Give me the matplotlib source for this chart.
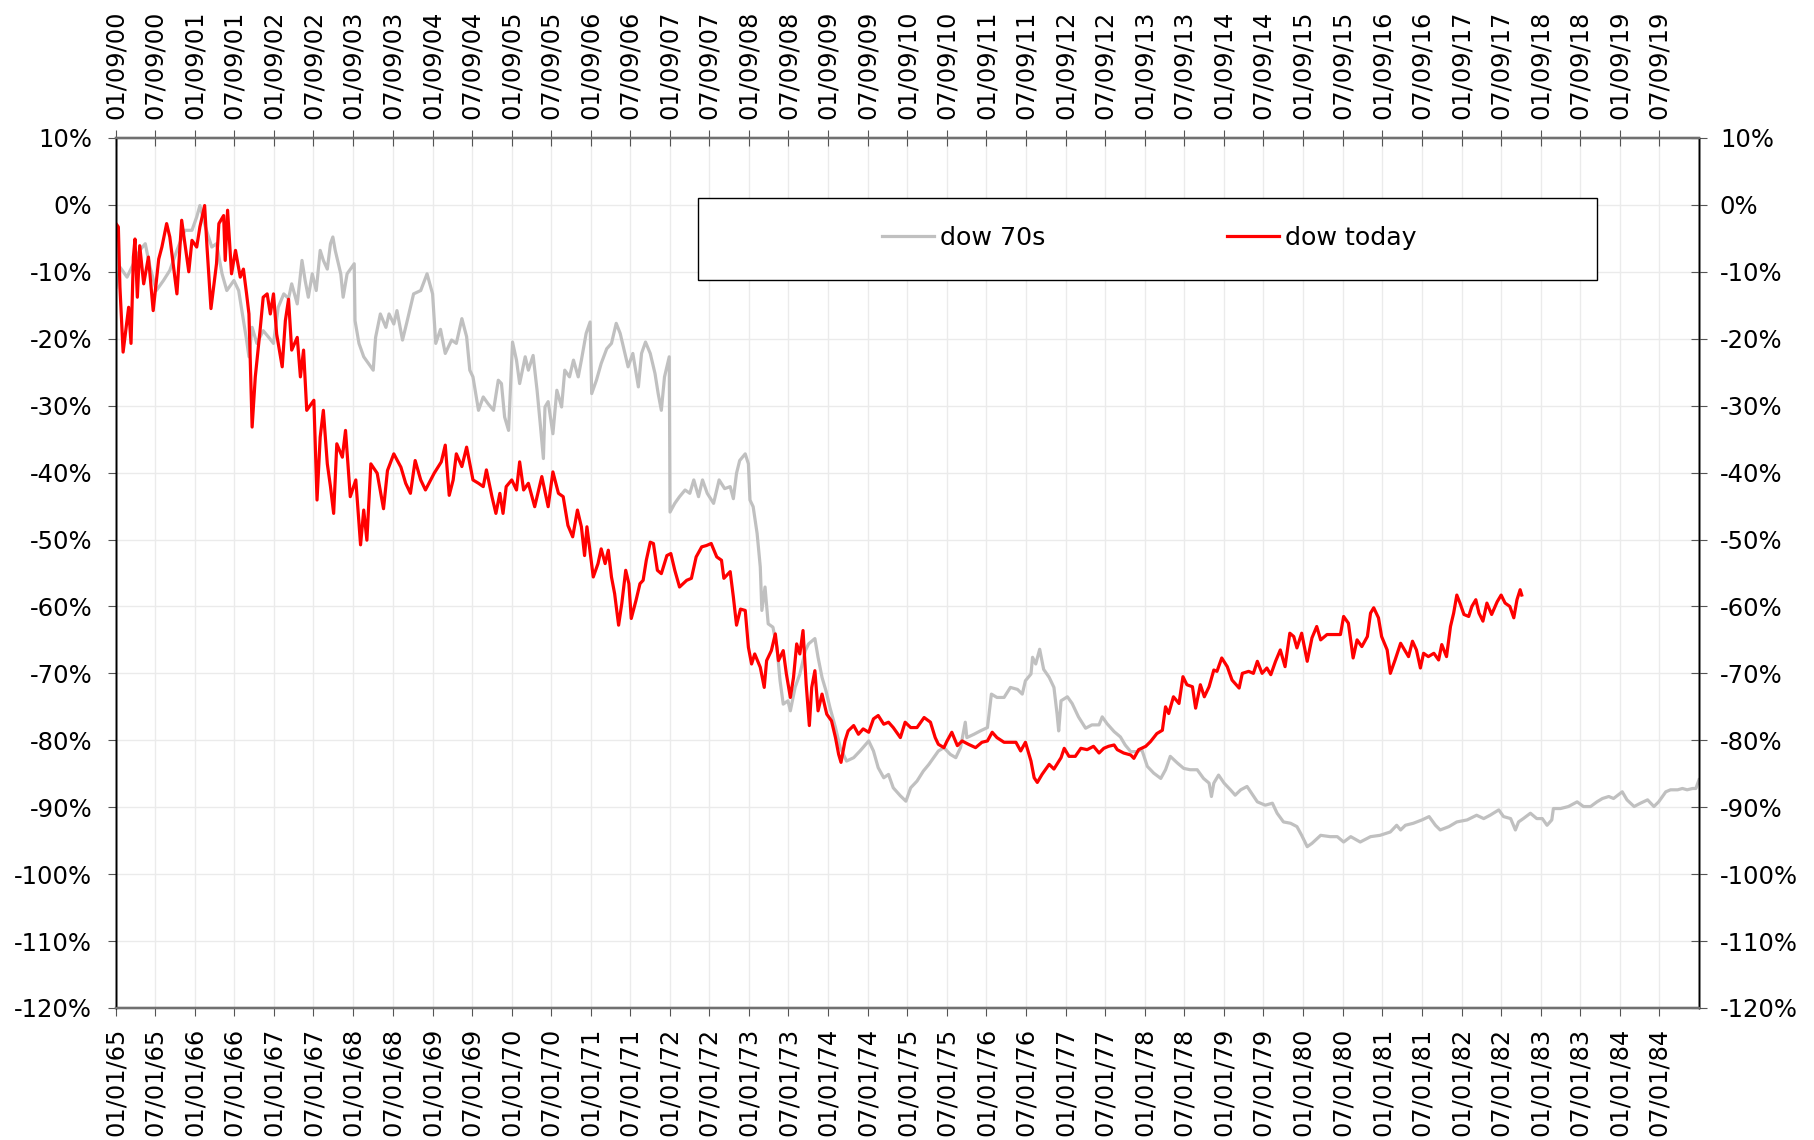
import numpy as np
import pandas as pd
import matplotlib
matplotlib.use("Agg")
import matplotlib.pyplot as plt
import matplotlib.dates as mdates
from matplotlib.patches import Rectangle
from matplotlib.ticker import FuncFormatter, MultipleLocator

# drawdown from the peak, % ; x in decimal years (1965 axis)
dow70_year = [
    1965.00, 1965.05, 1965.14, 1965.22, 1965.30, 1965.37, 1965.43, 1965.51, 1965.60, 1965.68,
    1965.77, 1965.87, 1965.96, 1966.02, 1966.06, 1966.13, 1966.21, 1966.27, 1966.34, 1966.40,
    1966.49, 1966.55, 1966.59, 1966.65, 1966.68, 1966.72, 1966.78, 1966.86, 1966.93, 1966.99,
    1967.05, 1967.12, 1967.18, 1967.22, 1967.29, 1967.35, 1967.39, 1967.43, 1967.48, 1967.53,
    1967.58, 1967.62, 1967.67, 1967.71, 1967.74, 1967.77, 1967.84, 1967.87, 1967.92, 1967.98,
    1968.01, 1968.02, 1968.07, 1968.13, 1968.22, 1968.25, 1968.28, 1968.34, 1968.41, 1968.45,
    1968.51, 1968.55, 1968.62, 1968.68, 1968.76, 1968.85, 1968.93, 1969.00, 1969.04, 1969.10,
    1969.16, 1969.24, 1969.30, 1969.37, 1969.43, 1969.47, 1969.51, 1969.58, 1969.64, 1969.70,
    1969.77, 1969.83, 1969.87, 1969.91, 1969.96, 1970.01, 1970.06, 1970.10, 1970.17, 1970.21,
    1970.27, 1970.32, 1970.36, 1970.40, 1970.42, 1970.46, 1970.52, 1970.57, 1970.63, 1970.67,
    1970.73, 1970.78, 1970.84, 1970.88, 1970.94, 1970.99, 1971.01, 1971.07, 1971.13, 1971.20,
    1971.26, 1971.32, 1971.37, 1971.41, 1971.47, 1971.53, 1971.60, 1971.64, 1971.69, 1971.75,
    1971.81, 1971.85, 1971.89, 1971.93, 1971.99, 1972.00, 1972.06, 1972.12, 1972.19, 1972.25,
    1972.30, 1972.36, 1972.41, 1972.47, 1972.55, 1972.62, 1972.69, 1972.76, 1972.80, 1972.84,
    1972.88, 1972.95, 1972.99, 1973.01, 1973.05, 1973.10, 1973.14, 1973.16, 1973.20, 1973.24,
    1973.30, 1973.35, 1973.39, 1973.43, 1973.49, 1973.52, 1973.58, 1973.64, 1973.71, 1973.75,
    1973.83, 1973.87, 1973.92, 1973.97, 1974.02, 1974.09, 1974.15, 1974.23, 1974.32, 1974.40,
    1974.51, 1974.57, 1974.63, 1974.70, 1974.76, 1974.82, 1974.91, 1974.98, 1975.04, 1975.12,
    1975.20, 1975.27, 1975.33, 1975.39, 1975.46, 1975.54, 1975.61, 1975.67, 1975.73, 1975.75,
    1975.84, 1975.92, 1976.01, 1976.06, 1976.13, 1976.22, 1976.30, 1976.39, 1976.45, 1976.49,
    1976.56, 1976.58, 1976.62, 1976.67, 1976.72, 1976.79, 1976.85, 1976.89, 1976.91, 1976.94,
    1977.02, 1977.08, 1977.16, 1977.25, 1977.33, 1977.42, 1977.46, 1977.52, 1977.61, 1977.69,
    1977.75, 1977.82, 1977.90, 1977.96, 1978.03, 1978.11, 1978.20, 1978.26, 1978.32, 1978.41,
    1978.49, 1978.57, 1978.66, 1978.74, 1978.81, 1978.84, 1978.87, 1978.93, 1979.00, 1979.08,
    1979.14, 1979.21, 1979.29, 1979.42, 1979.52, 1979.61, 1979.67, 1979.75, 1979.84, 1979.92,
    1979.98, 1980.05, 1980.11, 1980.22, 1980.34, 1980.43, 1980.51, 1980.60, 1980.72, 1980.85,
    1980.97, 1981.10, 1981.18, 1981.23, 1981.29, 1981.39, 1981.50, 1981.59, 1981.67, 1981.73,
    1981.84, 1981.94, 1982.07, 1982.19, 1982.28, 1982.36, 1982.47, 1982.53, 1982.62, 1982.68,
    1982.72, 1982.78, 1982.87, 1982.95, 1983.02, 1983.08, 1983.14, 1983.16, 1983.25, 1983.35,
    1983.46, 1983.54, 1983.63, 1983.71, 1983.78, 1983.86, 1983.92, 1984.03, 1984.09, 1984.18,
    1984.26, 1984.35, 1984.43, 1984.49, 1984.58, 1984.64, 1984.73, 1984.79, 1984.85, 1984.92,
    1984.96, 1985.00,
]
dow70_pct = [
    -12.3, -9.3, -10.8, -8.8, -6.8, -5.8, -9.3, -12.8, -11.3, -9.8,
    -6.8, -3.8, -3.8, -1.8, -0.1, -3.3, -6.3, -5.8, -10.3, -12.8,
    -11.3, -12.8, -15.8, -20.2, -22.7, -18.3, -20.7, -18.8, -19.8, -20.7,
    -15.3, -13.3, -14.0, -11.8, -14.8, -8.3, -11.3, -13.8, -10.3, -12.8,
    -6.8, -8.3, -9.6, -5.8, -4.8, -6.8, -10.3, -13.8, -10.3, -9.3,
    -8.8, -17.3, -20.7, -22.7, -24.2, -24.7, -19.8, -16.3, -18.3, -16.3,
    -17.8, -15.8, -20.2, -17.3, -13.3, -12.8, -10.3, -13.3, -20.7, -18.6,
    -22.2, -20.2, -20.7, -17.0, -19.7, -24.7, -25.7, -30.7, -28.7, -29.7,
    -30.7, -26.2, -26.7, -31.7, -33.7, -20.5, -23.2, -26.7, -22.7, -24.7,
    -22.5, -27.7, -32.7, -37.9, -30.2, -29.4, -34.2, -27.7, -30.2, -24.7,
    -25.7, -23.2, -25.7, -23.2, -19.2, -17.5, -28.2, -26.2, -23.7, -21.5,
    -20.7, -17.7, -19.2, -21.2, -24.2, -22.2, -27.2, -22.2, -20.5, -22.2,
    -25.2, -28.2, -30.7, -25.7, -22.7, -45.9, -44.6, -43.6, -42.6, -43.1,
    -41.1, -43.6, -41.1, -43.1, -44.6, -41.1, -42.4, -42.1, -43.9, -40.1,
    -38.2, -37.2, -38.7, -44.1, -45.1, -49.1, -54.1, -60.6, -57.1, -62.6,
    -63.1, -66.1, -71.1, -74.6, -74.1, -75.6, -72.1, -70.1, -66.6, -65.6,
    -64.8, -67.6, -70.6, -72.6, -75.1, -78.1, -81.1, -83.1, -82.6, -81.6,
    -80.1, -81.6, -84.1, -85.6, -85.1, -87.1, -88.3, -89.1, -87.1, -86.1,
    -84.6, -83.6, -82.6, -81.6, -81.1, -82.1, -82.6, -81.1, -77.3, -79.6,
    -79.1, -78.6, -78.1, -73.1, -73.6, -73.6, -72.1, -72.4, -73.1, -71.1,
    -70.1, -67.6, -68.6, -66.4, -69.4, -70.6, -72.1, -76.1, -78.6, -74.1,
    -73.5, -74.5, -76.5, -78.2, -77.7, -77.7, -76.5, -77.5, -78.7, -79.5,
    -80.7, -81.7, -81.7, -81.4, -83.9, -84.9, -85.7, -84.4, -82.4, -83.4,
    -84.2, -84.4, -84.4, -85.7, -86.4, -88.4, -86.4, -85.2, -86.4, -87.4,
    -88.2, -87.4, -86.9, -89.2, -89.7, -89.4, -90.9, -92.2, -92.4, -92.9,
    -94.2, -95.9, -95.4, -94.2, -94.4, -94.4, -95.2, -94.4, -95.2, -94.4,
    -94.2, -93.7, -92.7, -93.4, -92.7, -92.4, -91.9, -91.4, -92.7, -93.4,
    -92.9, -92.2, -91.9, -91.2, -91.7, -91.2, -90.4, -91.4, -91.7, -93.4,
    -92.2, -91.7, -90.9, -91.7, -91.7, -92.7, -91.9, -90.2, -90.2, -89.9,
    -89.2, -89.9, -89.9, -89.2, -88.7, -88.4, -88.7, -87.7, -88.9, -89.9,
    -89.4, -88.9, -89.9, -89.2, -87.7, -87.4, -87.4, -87.2, -87.4, -87.2,
    -87.2, -85.9,
]

today_year = [
    1965.00, 1965.03, 1965.05, 1965.09, 1965.16, 1965.19, 1965.22, 1965.24, 1965.27, 1965.30,
    1965.35, 1965.41, 1965.47, 1965.54, 1965.58, 1965.64, 1965.68, 1965.77, 1965.83, 1965.92,
    1965.96, 1966.02, 1966.06, 1966.12, 1966.15, 1966.20, 1966.27, 1966.30, 1966.36, 1966.38,
    1966.41, 1966.46, 1966.51, 1966.57, 1966.61, 1966.65, 1966.68, 1966.72, 1966.76, 1966.82,
    1966.86, 1966.91, 1966.95, 1966.99, 1967.03, 1967.10, 1967.14, 1967.18, 1967.22, 1967.29,
    1967.33, 1967.37, 1967.41, 1967.50, 1967.54, 1967.58, 1967.62, 1967.67, 1967.71, 1967.75,
    1967.79, 1967.86, 1967.90, 1967.96, 1968.03, 1968.09, 1968.13, 1968.17, 1968.22, 1968.30,
    1968.38, 1968.43, 1968.51, 1968.60, 1968.66, 1968.72, 1968.78, 1968.85, 1968.91, 1969.02,
    1969.11, 1969.16, 1969.21, 1969.26, 1969.30, 1969.37, 1969.43, 1969.51, 1969.58, 1969.64,
    1969.68, 1969.75, 1969.80, 1969.85, 1969.89, 1969.93, 1970.00, 1970.06, 1970.10, 1970.15,
    1970.21, 1970.29, 1970.38, 1970.46, 1970.52, 1970.59, 1970.65, 1970.71, 1970.77, 1970.83,
    1970.88, 1970.92, 1970.95, 1971.03, 1971.09, 1971.13, 1971.18, 1971.22, 1971.26, 1971.30,
    1971.35, 1971.39, 1971.44, 1971.48, 1971.51, 1971.57, 1971.62, 1971.66, 1971.70, 1971.75,
    1971.79, 1971.84, 1971.89, 1971.96, 1972.01, 1972.06, 1972.12, 1972.21, 1972.27, 1972.33,
    1972.40, 1972.46, 1972.52, 1972.59, 1972.65, 1972.68, 1972.76, 1972.80, 1972.84, 1972.89,
    1972.95, 1972.99, 1973.03, 1973.07, 1973.14, 1973.19, 1973.22, 1973.28, 1973.33, 1973.37,
    1973.43, 1973.47, 1973.52, 1973.56, 1973.60, 1973.64, 1973.68, 1973.72, 1973.76, 1973.79,
    1973.83, 1973.87, 1973.92, 1973.98, 1974.04, 1974.09, 1974.13, 1974.16, 1974.21, 1974.25,
    1974.32, 1974.38, 1974.44, 1974.51, 1974.57, 1974.63, 1974.70, 1974.76, 1974.82, 1974.91,
    1974.97, 1975.04, 1975.12, 1975.21, 1975.29, 1975.35, 1975.39, 1975.46, 1975.50, 1975.56,
    1975.63, 1975.69, 1975.77, 1975.86, 1975.94, 1976.01, 1976.07, 1976.13, 1976.22, 1976.30,
    1976.37, 1976.43, 1976.49, 1976.56, 1976.60, 1976.64, 1976.70, 1976.79, 1976.85, 1976.94,
    1976.98, 1977.04, 1977.12, 1977.19, 1977.27, 1977.35, 1977.42, 1977.48, 1977.54, 1977.61,
    1977.65, 1977.73, 1977.82, 1977.86, 1977.92, 1978.01, 1978.07, 1978.15, 1978.22, 1978.26,
    1978.30, 1978.36, 1978.43, 1978.48, 1978.53, 1978.60, 1978.64, 1978.70, 1978.75, 1978.81,
    1978.87, 1978.91, 1978.97, 1979.04, 1979.10, 1979.19, 1979.23, 1979.31, 1979.37, 1979.42,
    1979.48, 1979.54, 1979.59, 1979.65, 1979.71, 1979.77, 1979.83, 1979.88, 1979.92, 1979.98,
    1980.05, 1980.11, 1980.17, 1980.22, 1980.30, 1980.38, 1980.47, 1980.51, 1980.57, 1980.63,
    1980.68, 1980.74, 1980.81, 1980.85, 1980.89, 1980.95, 1980.99, 1981.06, 1981.10, 1981.16,
    1981.23, 1981.29, 1981.33, 1981.38, 1981.43, 1981.48, 1981.52, 1981.58, 1981.65, 1981.71,
    1981.75, 1981.81, 1981.86, 1981.90, 1981.94, 1981.98, 1982.03, 1982.09, 1982.13, 1982.18,
    1982.22, 1982.27, 1982.32, 1982.38, 1982.45, 1982.50, 1982.55, 1982.61, 1982.66, 1982.70,
    1982.74, 1982.76,
]
today_pct = [
    -2.8, -3.3, -12.3, -22.0, -15.3, -20.7, -7.8, -5.1, -13.8, -6.1,
    -11.8, -7.8, -15.8, -8.1, -6.3, -2.8, -4.8, -13.3, -2.3, -10.0,
    -5.3, -6.3, -3.3, -0.1, -6.3, -15.5, -8.8, -2.8, -1.6, -8.3,
    -0.8, -10.3, -6.8, -10.8, -9.6, -13.3, -16.3, -33.2, -25.7, -18.8,
    -13.8, -13.3, -16.3, -13.3, -19.3, -24.2, -17.3, -14.1, -21.7, -19.8,
    -25.7, -21.7, -30.7, -29.2, -44.1, -34.7, -30.7, -38.7, -42.1, -46.1,
    -35.7, -37.7, -33.7, -43.6, -41.1, -50.8, -45.6, -50.1, -38.7, -40.1,
    -45.4, -39.7, -37.2, -39.2, -41.6, -43.1, -38.2, -41.1, -42.6, -40.1,
    -38.4, -35.9, -43.4, -41.1, -37.2, -39.1, -36.2, -41.1, -41.6, -42.1,
    -39.6, -43.6, -46.1, -43.1, -46.1, -42.1, -41.1, -42.6, -38.4, -42.6,
    -41.6, -45.1, -40.6, -45.1, -39.9, -43.1, -43.6, -47.9, -49.6, -45.6,
    -48.1, -52.4, -48.1, -55.6, -53.6, -51.4, -53.6, -51.6, -55.6, -58.1,
    -62.8, -59.6, -54.6, -56.6, -61.8, -59.1, -56.6, -56.1, -53.1, -50.4,
    -50.6, -54.6, -55.1, -52.4, -52.1, -54.6, -57.1, -56.1, -55.8, -52.6,
    -51.1, -50.9, -50.6, -52.6, -53.1, -55.8, -54.8, -58.6, -62.8, -60.4,
    -60.6, -66.1, -68.6, -67.1, -69.1, -72.1, -68.1, -66.6, -64.1, -68.1,
    -66.6, -70.1, -73.6, -70.6, -65.6, -67.1, -63.6, -71.6, -77.8, -72.1,
    -69.6, -75.6, -73.1, -76.1, -77.1, -79.6, -82.1, -83.3, -80.1, -78.6,
    -77.8, -79.1, -78.3, -78.8, -76.8, -76.3, -77.6, -77.3, -78.1, -79.6,
    -77.3, -78.1, -78.1, -76.6, -77.3, -79.6, -80.6, -81.1, -80.1, -78.8,
    -80.8, -80.1, -80.6, -81.1, -80.3, -80.1, -78.8, -79.6, -80.3, -80.3,
    -80.3, -81.6, -80.3, -83.1, -85.6, -86.3, -85.1, -83.6, -84.3, -82.6,
    -81.2, -82.4, -82.4, -81.2, -81.4, -80.9, -81.9, -81.2, -80.9, -80.7,
    -81.4, -81.9, -82.2, -82.7, -81.4, -80.9, -80.2, -79.0, -78.5, -75.0,
    -76.0, -73.5, -74.5, -70.5, -71.7, -72.0, -75.2, -71.7, -73.5, -72.0,
    -69.5, -69.7, -67.7, -69.0, -71.0, -72.2, -70.0, -69.7, -70.0, -68.2,
    -70.0, -69.2, -70.2, -68.2, -66.5, -69.0, -64.0, -64.5, -66.2, -64.0,
    -68.2, -64.7, -63.0, -65.0, -64.2, -64.2, -64.2, -61.5, -62.5, -67.7,
    -65.0, -66.0, -64.5, -61.0, -60.2, -61.7, -64.5, -66.5, -70.0, -68.0,
    -65.5, -66.7, -67.5, -65.2, -66.5, -69.2, -67.0, -67.5, -67.0, -68.0,
    -65.7, -67.5, -63.0, -61.0, -58.3, -59.5, -61.2, -61.5, -60.0, -59.0,
    -61.0, -62.2, -59.5, -61.2, -59.3, -58.3, -59.5, -60.0, -61.7, -59.0,
    -57.5, -58.3,
]

# half-year tick labels of the two eras
bottom_start, bottom_end = "1965-01-01", "1985-01-01"
top_labels = [f"{m:02d}/09/{y % 100:02d}" for y in range(2000, 2020) for m in (1, 7)]


def to_dates(years):
    yrs = np.asarray(years, dtype=float)
    return pd.Timestamp(bottom_start) + pd.to_timedelta((yrs - 1965.0) * 365.25, unit="D")


plt.rcParams["font.family"] = ["DejaVu Sans"]

fig = plt.figure(figsize=(18.15, 11.4), dpi=100)
ax = fig.add_axes([0.0639, 0.1158, 0.8722, 0.7632])

ax.plot(to_dates(dow70_year), dow70_pct, color="#c0c0c0", lw=2.3, label="dow 70s", zorder=2)
ax.plot(to_dates(today_year), today_pct, color="#ff0000", lw=2.3, label="dow today", zorder=3)

ticks = pd.date_range(bottom_start, "1984-07-01", freq="6MS")
ax.set_xlim(pd.Timestamp(bottom_start), pd.Timestamp(bottom_end))
ax.set_xticks(ticks)
ax.xaxis.set_major_formatter(mdates.DateFormatter("%m/%d/%y"))
ax.set_ylim(-120, 10)
ax.yaxis.set_major_locator(MultipleLocator(10))
pct = FuncFormatter(lambda v, p: f"{v:.0f}%")
ax.yaxis.set_major_formatter(pct)
ax.grid(True, color="#ebebeb", lw=1.0, zorder=0)
ax.set_axisbelow(True)

ax.tick_params(axis="x", direction="out", length=6, pad=8, labelrotation=90,
               labelsize=17.3, color="#555555")
ax.tick_params(axis="y", direction="out", length=6, pad=11, labelsize=17.5, color="#555555")

# mirrored date axis on top
ax_t = ax.twiny()
ax_t.set_xlim(ax.get_xlim())
ax_t.set_xticks(mdates.date2num(ticks))
ax_t.set_xticklabels(top_labels)
ax_t.tick_params(axis="x", direction="inout", length=11, pad=8, labelrotation=90,
                 labelsize=17.3, color="#555555")

# mirrored percent axis on the right
ax_r = ax.twinx()
ax_r.set_ylim(ax.get_ylim())
ax_r.yaxis.set_major_locator(MultipleLocator(10))
ax_r.yaxis.set_major_formatter(pct)
ax_r.tick_params(axis="y", direction="inout", length=12, pad=9, labelsize=17.5, color="#555555")

for a in (ax, ax_t, ax_r):
    a.spines["left"].set_color("black")
    a.spines["right"].set_color("black")
    a.spines["left"].set_linewidth(1.0)
    a.spines["right"].set_linewidth(1.0)
    a.spines["top"].set_color("#707070")
    a.spines["bottom"].set_color("#707070")
    a.spines["top"].set_linewidth(1.6)
    a.spines["bottom"].set_linewidth(1.6)

# legend box
ax_r.add_patch(Rectangle((0.3677, 0.8368), 0.5679, 0.0942, transform=ax_r.transAxes,
                         facecolor="white", edgecolor="black", lw=1.0, zorder=4))
handles, labels = ax.get_legend_handles_labels()
leg = ax_r.legend(handles, labels, loc="center left", bbox_to_anchor=(0.4839, 0.885),
                  ncol=2, frameon=False, fontsize=18.2, handlelength=2.05,
                  handletextpad=0.24, columnspacing=7.2, borderpad=0, borderaxespad=0)
leg.set_zorder(5)

fig.savefig("out.png", dpi=100, facecolor="white")
